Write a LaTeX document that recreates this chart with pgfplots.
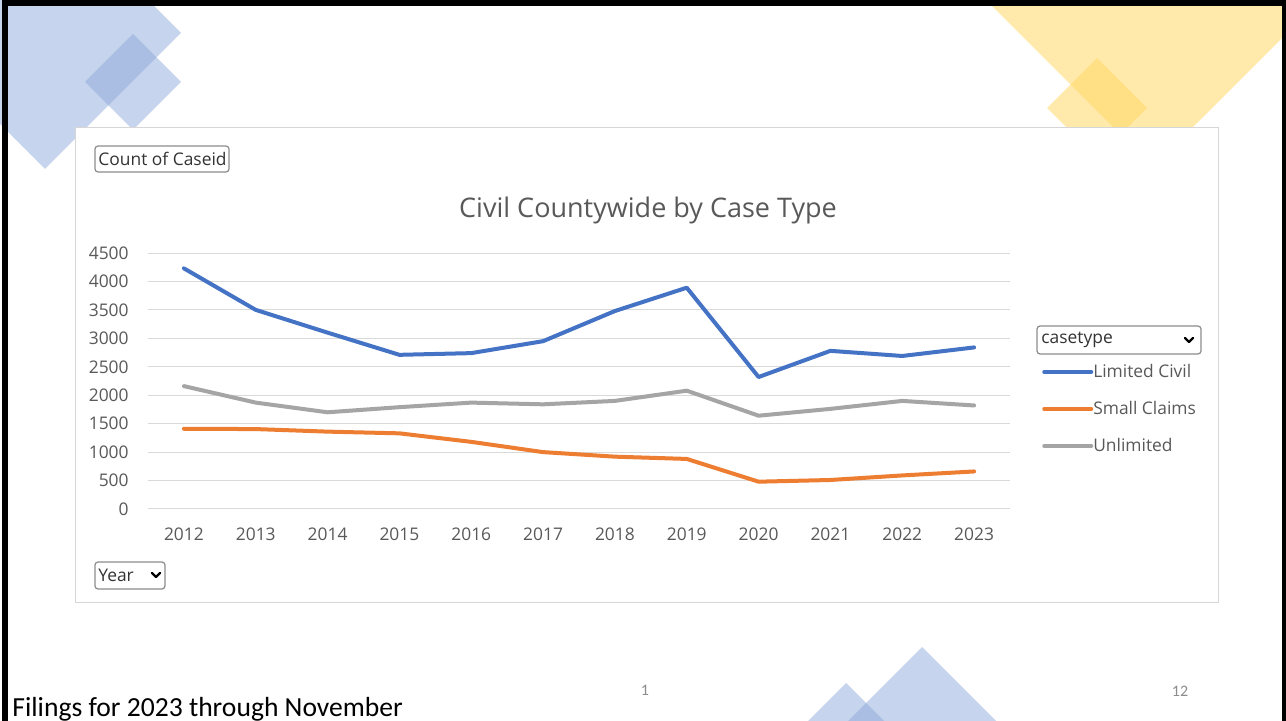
\documentclass[border=0pt]{standalone}
\usepackage{pgfplots}
\pgfplotsset{compat=1.18}
\usepackage{fontspec}
\setmainfont{Open Sans}
\newfontfamily\slidefont{Carlito}
\definecolor{lcblue}{HTML}{4472C4}
\definecolor{scorange}{HTML}{ED7D31}
\definecolor{ulgray}{HTML}{A5A5A5}
\definecolor{txtgray}{HTML}{595959}
\definecolor{gridgray}{HTML}{D9D9D9}
\definecolor{panelgray}{HTML}{D6D6D6}
\definecolor{decoblue}{HTML}{8FAADC}
\definecolor{decoyellow}{HTML}{FFD966}
\newcommand{\cf}{\fontsize{8.7}{10}\selectfont}

\pgfplotstableread{
x limited small unlimited
0  4230 1410 2160
1  3500 1405 1870
2  3100 1360 1700
3  2710 1330 1790
4  2740 1180 1870
5  2950 1000 1840
6  3480  920 1900
7  3890  880 2080
8  2320  480 1640
9  2780  510 1760
10 2690  590 1900
11 2840  660 1820
}\casedata

\begin{document}
\begin{tikzpicture}
\useasboundingbox (0,0) rectangle (643pt,-360.5pt);
\begin{scope}[x=0.5pt,y=-0.5pt]
\clip (0,0) rectangle (1286,721);
\fill[white] (0,0) rectangle (1286,721);
% decorative shapes
\fill[decoblue,fill opacity=0.5] (45,-103) -- (181,33) -- (45,169) -- (-91,33) -- cycle;
\fill[decoblue,fill opacity=0.5] (133,34) -- (181,82) -- (133,130) -- (85,82) -- cycle;
\fill[decoyellow,fill opacity=0.55] (853,-133) -- (1153,167) -- (1453,-133) -- (1153,-433) -- cycle;
\fill[decoyellow,fill opacity=0.55] (1097,58) -- (1147,108) -- (1097,158) -- (1047,108) -- cycle;
\fill[decoblue,fill opacity=0.5] (922,647) -- (1022,747) -- (922,847) -- (822,747) -- cycle;
\fill[decoblue,fill opacity=0.5] (846,683) -- (946,783) -- (846,883) -- (746,783) -- cycle;
% panel
\filldraw[fill=white, draw=panelgray, line width=0.5pt] (75,128) rectangle (1218,603);
% buttons
\draw[rounded corners=1.5pt, draw=black!45, line width=0.6pt] (95,146) rectangle (229,172);
\node[anchor=west, inner sep=0pt, text=black!80] at (98,159) {\cf Count of Caseid};
\draw[rounded corners=1.5pt, draw=black!45, line width=0.6pt] (95,562) rectangle (165,589);
\node[anchor=west, inner sep=0pt, text=black!80] at (98,575.5) {\cf Year};
\draw[line width=1.1pt, line cap=round, line join=round] (152,573) -- (156,577) -- (160,573);
\draw[rounded corners=1.5pt, draw=black!45, line width=0.6pt] (1037,326) rectangle (1201,354);
\node[anchor=west, inner sep=0pt, text=black!80] at (1041,339.5) {\cf casetype};
\draw[line width=1.1pt, line cap=round, line join=round] (1185,338) -- (1189,342) -- (1193,338);
% title
\node[text=txtgray, inner sep=0pt] at (648,210) {\fontsize{13.5}{16}\selectfont Civil Countywide by Case Type};
% footer
\node[anchor=base west, inner sep=0pt] at (12,716) {\slidefont\fontsize{13.8}{16}\selectfont Filings for 2023 through November};
\node[text=black!45, inner sep=0pt] at (645,690) {\slidefont\fontsize{8}{9}\selectfont 1};
\node[text=black!45, inner sep=0pt] at (1180,691) {\slidefont\fontsize{8}{9}\selectfont 12};
% border
\draw[black, line width=3pt] (5,1000) -- (5,3) -- (1284.5,3) -- (1284.5,1000);
\end{scope}

\begin{axis}[
  at={(74pt,-254.5pt)}, anchor=south west,
  scale only axis, width=431pt, height=128pt,
  xmin=-0.5, xmax=11.5, ymin=0, ymax=4500,
  xtick={0,1,2,3,4,5,6,7,8,9,10,11},
  xticklabels={2012,2013,2014,2015,2016,2017,2018,2019,2020,2021,2022,2023},
  ytick={0,500,1000,1500,2000,2500,3000,3500,4000,4500},
  axis line style={draw=none},
  major tick length=0pt,
  ymajorgrids,
  grid style={gridgray, line width=0.5pt},
  tick label style={font=\cf, text=txtgray},
  /pgf/number format/assume math mode=true,
  /pgf/number format/1000 sep={},
  yticklabel style={anchor=east, inner sep=0pt, xshift=-9.5pt},
  xticklabel style={anchor=north, inner sep=0pt, yshift=-9pt},
  legend style={at={(1.030,0.582)}, anchor=north west, draw=none, fill=none,
    nodes={inner sep=0pt, text=txtgray, font=\cf, text height=6.5pt, text depth=1pt},
    row sep=11pt, column sep=0pt},
  legend cell align=left,
  legend image code/.code={\draw[#1] (0pt,0pt) -- (23.5pt,0pt);},
  every axis plot/.append style={line width=2pt, line join=round, line cap=round},
]
\addplot[lcblue] table[x=x, y=limited] {\casedata};
\addlegendentry{Limited Civil}
\addplot[scorange] table[x=x, y=small] {\casedata};
\addlegendentry{Small Claims}
\addplot[ulgray] table[x=x, y=unlimited] {\casedata};
\addlegendentry{Unlimited}
\end{axis}
\end{tikzpicture}
\end{document}
